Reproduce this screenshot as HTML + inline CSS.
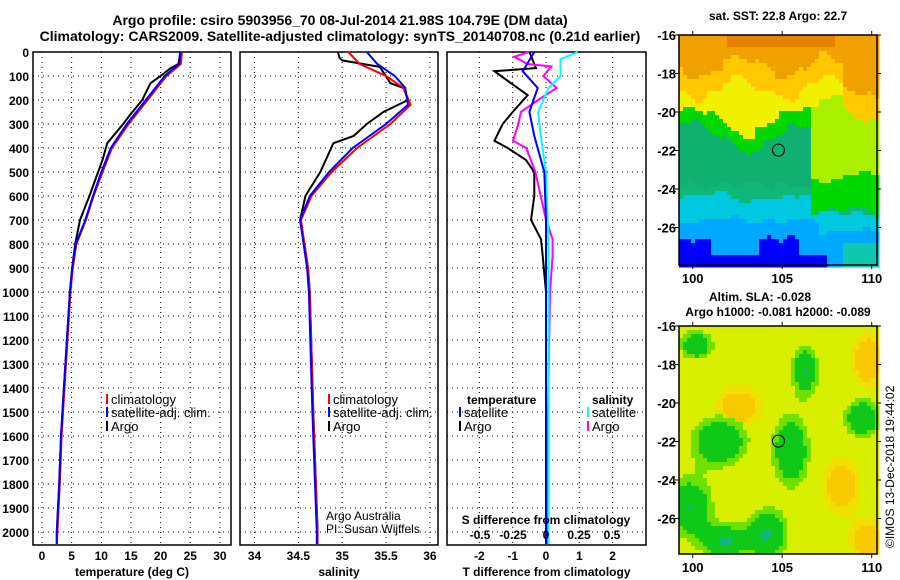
<!DOCTYPE html>
<html><head><meta charset="utf-8">
<style>
html,body{margin:0;padding:0;background:#fff;}
svg{display:block;font-family:"Liberation Sans",Arial,sans-serif;}
.t{font-weight:bold;font-size:12px;fill:#000;}
.h{font-weight:bold;font-size:14px;fill:#000;}
.l{font-size:13px;fill:#000;}
.grid{stroke:#000;stroke-width:1;stroke-dasharray:1,4;}
</style></head>
<body>
<svg id="c" width="900" height="580" viewBox="0 0 900 580" xmlns="http://www.w3.org/2000/svg">
<text class="h" x="340" y="25" text-anchor="middle">Argo profile: csiro 5903956_70 08-Jul-2014 21.98S 104.79E (DM data)</text>
<text class="h" x="340" y="41" text-anchor="middle">Climatology: CARS2009. Satellite-adjusted climatology: synTS_20140708.nc (0.21d earlier)</text>
<g id="p1"></g>
<g id="p2"></g>
<g id="p3"></g>
<g id="m1"></g>
<g id="m2"></g>
<text class="t" x="778" y="20" text-anchor="middle">sat. SST: 22.8 Argo: 22.7</text>
<text class="t" x="760" y="301" text-anchor="middle">Altim. SLA: -0.028</text>
<text class="t" x="778" y="316" text-anchor="middle">Argo h1000: -0.081 h2000: -0.089</text>
<text class="l" x="0" y="0" transform="translate(894,548) rotate(-90)" style="font-size:12px">©IMOS 13-Dec-2018 19:44:02</text>
</svg>
<script>
// ---- data ----
const depthTicks=[0,100,200,300,400,500,600,700,800,900,1000,1100,1200,1300,1400,1500,1600,1700,1800,1900,2000];
const tempTicks=[0,5,10,15,20,25,30];
const salTicks=[34,34.5,35,35.5,36];
const tdiffTicks=[-2,-1,0,1,2];
const sdiffTicks=[-0.5,-0.25,0,0.25,0.5];
const sdiffTickLabels=["-0.5","-0.25","0","0.25","0.5"];
const argoDepth=[0,20,50,67,100,130,200,270,300,380,450,600,700,800,900,1000,1200,1400,1600,1800,2000,2050];
const argoTemp=[23.3,23.2,23.0,21.7,20.0,18.3,16.9,14.6,13.7,11.0,10.2,8.0,6.4,5.6,5.1,4.7,4.2,3.7,3.2,2.9,2.5,2.5];
const climDepth=[0,50,100,150,200,300,400,500,600,700,800,900,1000,1200,1400,1600,1800,2000,2050];
const climTemp=[23.6,23.4,21.0,19.4,17.8,14.6,11.8,10.2,8.7,7.4,5.8,5.2,4.8,4.3,3.8,3.3,3.0,2.6,2.5];
const satTemp=[23.4,23.1,20.7,19.1,17.5,14.3,11.6,10.0,8.6,7.3,5.7,5.1,4.7,4.2,3.7,3.2,2.9,2.5,2.5];
const argoSalDepth=[0,25,35,62,130,150,200,250,300,350,380,500,600,700,800,900,1000,1500,2000];
const argoSal=[34.95,34.97,35.0,35.43,35.55,35.7,35.75,35.47,35.28,35.13,34.9,34.75,34.58,34.52,34.57,34.61,34.63,34.67,34.72];
const climSalDepth=[0,50,100,150,220,300,400,500,600,700,800,900,1000,1500,2000,2050];
const climSal=[35.07,35.2,35.5,35.7,35.78,35.55,35.17,34.88,34.65,34.53,34.57,34.61,34.63,34.67,34.72,34.72];
const satSal=[35.28,35.4,35.6,35.72,35.75,35.5,35.12,34.85,34.63,34.52,34.56,34.6,34.62,34.66,34.71,34.71];
const dTDepth=[0,67,80,130,180,250,300,370,400,450,500,600,700,780,850,1000,1500,2050];
const argoTdiff=[-0.5,-0.3,-1.55,-1.05,-0.55,-1.0,-1.3,-1.55,-1.15,-0.6,-0.35,-0.35,-0.45,-0.15,-0.1,0,0,0];
const satTdiffDepth=[0,80,150,250,350,500,700,2050];
const satTdiff=[-0.35,-0.7,-0.25,-0.5,-0.35,-0.05,0,0];
const dSDepth=[0,20,50,60,100,150,200,250,300,370,400,500,600,700,780,850,1000,1500,2050];
const argoSdiff=[-0.13,-0.24,-0.14,0.04,-0.02,0.08,-0.06,-0.19,-0.21,-0.25,-0.15,-0.08,-0.04,0,0.05,0.05,0.03,0.015,0.01];
const satSdiffDepth=[0,30,100,150,250,350,500,800,1500,2050];
const satSdiff=[0.24,0.11,0.11,0.02,-0.06,-0.04,0,0.02,0.02,0.02];
const mapLonTicks=[100,105,110];
const mapLatTicks=[-16,-18,-20,-22,-24,-26];
const argoLon=104.79, argoLat=-21.98;

const NS='http://www.w3.org/2000/svg';
function mk(tag,attrs,parent,txt){const e=document.createElementNS(NS,tag);for(const k in attrs)e.setAttribute(k,attrs[k]);if(txt!==undefined)e.textContent=txt;parent.appendChild(e);return e;}
const TOP=52,BOT=545;
const yD=d=>TOP+d*0.24;

function panel(g,x0,x1,xs,ticks,labels,xlabel,showY){
  for(const d of depthTicks){
    const y=yD(d);
    const gl=mk('line',{x1:x0,x2:x1,y1:y,y2:y,class:'grid'},g);
    
    
    if(showY){const t=mk('text',{x:x0-4,y:y+5,class:'t','text-anchor':'end'},g,String(d));
      
      }
  }
  ticks.forEach((v,i)=>{
    const x=xs(v);
    const gl=mk('line',{x1:x,x2:x,y1:TOP,y2:BOT,class:'grid'},g);
    
    
    if(labels){const t=mk('text',{x:x,y:560,class:'t','text-anchor':'middle'},g,labels[i]);
      
      }
  });
  const r=mk('rect',{x:x0,y:TOP,width:x1-x0,height:BOT-TOP,fill:'none',stroke:'#000','stroke-width':1.5},g);
  
  
  const xl=mk('text',{x:(x0+x1)/2,y:576,class:'t','text-anchor':'middle'},g,xlabel);
  
  
}
function line(g,xs,vals,depths,color,name,w){
  const pts=vals.map((v,i)=>xs(v).toFixed(1)+','+yD(depths[i]).toFixed(1)).join(' ');
  const p=mk('polyline',{points:pts,fill:'none',stroke:color,'stroke-width':w||2},g);
  
  
}
function legend(g,x,y,color,label,name){
  const m=mk('line',{x1:x,x2:x,y1:y-10,y2:y,stroke:color,'stroke-width':2},g);
  
  
  const t=mk('text',{x:x+4,y:y,class:'l'},g,label);
  
  
}

// temperature
const p1=document.getElementById('p1');
const xT=v=>42+v*5.93;
panel(p1,33,231,xT,tempTicks,tempTicks.map(String),'temperature (deg C)',true);
line(p1,xT,argoTemp,argoDepth,'#000','argo-temperature-line');
line(p1,xT,climTemp,climDepth,'#f00','climatology-temperature-line');
line(p1,xT,satTemp,climDepth,'#00f','satellite-temperature-line');
legend(p1,107,404,'#f00','climatology','legend-climatology');
legend(p1,107,417,'#00f','satellite-adj. clim.','legend-satellite');
legend(p1,107,431,'#000','Argo','legend-argo');

// salinity
const p2=document.getElementById('p2');
const xS=v=>254.5+(v-34)*87.7;
panel(p2,240,438,xS,salTicks,salTicks.map(String),'salinity',false);
line(p2,xS,argoSal,argoSalDepth,'#000','argo-salinity-line');
line(p2,xS,climSal,climSalDepth,'#f00','climatology-salinity-line');
line(p2,xS,satSal,climSalDepth,'#00f','satellite-salinity-line');
legend(p2,329,404,'#f00','climatology','legend-climatology-sal');
legend(p2,329,417,'#00f','satellite-adj. clim.','legend-satellite-sal');
legend(p2,329,431,'#000','Argo','legend-argo-sal');
const c1=mk('text',{x:326,y:520,class:'l',style:'font-size:12px'},p2,'Argo Australia');

const c2=mk('text',{x:326,y:533,class:'l',style:'font-size:12px'},p2,'PI: Susan Wijffels');


// differences
const p3=document.getElementById('p3');
const xDT=v=>546+v*33.3;
const xDS=v=>546+v*132;
panel(p3,447,646,xDT,tdiffTicks,tdiffTicks.map(String),'T difference from climatology',false);
line(p3,xDT,argoTdiff,dTDepth,'#000','argo-t-diff-line');
line(p3,xDS,argoSdiff,dSDepth,'#f0f','argo-s-diff-line');
line(p3,xDS,satSdiff,satSdiffDepth,'#0ff','satellite-s-diff-line');
line(p3,xDT,satTdiff,satTdiffDepth,'#00f','satellite-t-diff-line');
const tl=mk('text',{x:467,y:404,class:'t'},p3,'temperature');
const sl=mk('text',{x:592,y:404,class:'t'},p3,'salinity');
legend(p3,460,417,'#00f','satellite','legend-t-satellite');
legend(p3,460,431,'#000','Argo','legend-t-argo');
legend(p3,588,417,'#0ff','satellite','legend-s-satellite');
legend(p3,588,431,'#f0f','Argo','legend-s-argo');
const sd=mk('text',{x:546,y:524,class:'t','text-anchor':'middle'},p3,'S difference from climatology');

sdiffTicks.forEach((v,i)=>{const t=mk('text',{x:xDS(v),y:539,class:'t','text-anchor':'middle'},p3,sdiffTickLabels[i]);
  });

// maps
function map(g,top,bot,colorFn){
  const L=679,R=877,cs=4;
  const lonX=v=>692.7+(v-100)*17.9;
  const lat0=-16, py=19.25;
  const latY=v=>top+(lat0-v)*py;
  const cells=mk('g',{},g);
  
  
  for(let y=top;y<bot;y+=cs)for(let x=L;x<R;x+=cs){
    const lon=100+(x+2-692.7)/17.9, lat=lat0-(y+2-top)/py;
    mk('rect',{x:x,y:y,width:cs+0.5,height:cs+0.5,fill:colorFn(lon,lat)},cells);
  }
  const fr=mk('rect',{x:L,y:top,width:R-L,height:bot-top,fill:'none',stroke:'#000','stroke-width':1.5},g);
  
  for(const v of mapLonTicks){const x=lonX(v);
    mk('line',{x1:x,x2:x,y1:top,y2:top-4,stroke:'#000'},g);
    mk('line',{x1:x,x2:x,y1:bot,y2:bot+4,stroke:'#000'},g);
    const t=mk('text',{x:x,y:bot+18,class:'t','text-anchor':'middle',style:'font-size:13px'},g,String(v));
    }
  for(const v of mapLatTicks){const y=latY(v);
    mk('line',{x1:R,x2:R+4,y1:y,y2:y,stroke:'#000'},g);
    mk('line',{x1:L-4,x2:L,y1:y,y2:y,stroke:'#000'},g);
    const t=mk('text',{x:L-3,y:y+5,class:'t','text-anchor':'end',style:'font-size:13px'},g,String(v));
    }
  const c=mk('circle',{cx:lonX(argoLon),cy:latY(argoLat),r:6,fill:'none',stroke:'#000','stroke-width':1},g);
  
}
function n(a,b){return Math.sin(a*1.7+b*0.9)*0.5+Math.sin(a*0.6-b*2.3)*0.4+Math.sin(a*3.1+b*2.7)*0.25;}
function sst(lon,lat){
  const nz=0.25*n(lon*2.1,lat*1.9);
  const orangeB=-17.6+0.5*Math.sin(lon*1.3)+nz-(lon>108.5?1.2:0);
  const yellowB=-19.8-1.5*Math.exp(-Math.pow((lon-103)/1.6,2))+(lon>107?0.6:0)+nz;
  const ygB=(lon>106.5)?-23.3+0.4*n(lon,lat):yellowB;
  const greenB=-23.8+(lon>106.5?-1.3:0)+nz;
  const tealB=-24.3+(lon>106.5?-1.0:0)+nz-(lon>102&&lon<106?0.2:0);
  const cyanB=-25.6+(lon>107?-0.6:0)+nz;
  if(lat>orangeB) return (lat>-16.7&&(lon>102&&lon<108))?'#e88000':'#f0a000';
  if(lat>orangeB-1.2) return '#ffc800';
  if(lat>yellowB) return '#f0f000';
  if(lat>ygB) return '#a8f000';
  if(lat>greenB) return (lat>yellowB-0.8||lon>106.5)?'#00d800':'#10b070';
  if(lat>tealB) return '#10b878';
  if(lat>cyanB) return '#00c8e0';
  if(lat<-26.6+0.3*n(lon*3,lat*3)&&(lon<101||(lon>103.7&&lon<106)||(lat<-27.4&&lon<107.5))) return '#0000ff';
  if(lon>108.5&&lat<-26.8) return '#10c8b0';
  return '#00a8ff';
}
const blobs=[[101.5,-22,1.7,1.4],[99.8,-25.4,1.4,1.6],[104.2,-26.8,1.2,1.4],[105.5,-22.5,1.1,2.0],[109.5,-20.8,1.1,1.1],[106.3,-18.3,0.8,1.4],[100.2,-17,1.0,0.8],[101.8,-27.2,1.4,0.9]];
const oranges=[[108.3,-24.3,1.0,1.4],[109.8,-17.8,0.9,1.4],[109.8,-27.1,1.0,1.0],[102.6,-20.2,1.2,1.0]];
function sla(lon,lat){
  let v=0;for(const b of blobs){const d=Math.pow((lon-b[0])/b[2],2)+Math.pow((lat-b[1])/b[3],2);v+=Math.exp(-d);}
  let o=0;for(const b of oranges){const d=Math.pow((lon-b[0])/b[2],2)+Math.pow((lat-b[1])/b[3],2);o+=Math.exp(-d);}
  if(v>1.0) return '#10b880';
  if(v>0.6) return '#10c818';
  if(v>0.4) return '#70e000';
  if(o>0.55) return '#f8c800';
  if(o>0.3) return '#f0e000';
  return '#d8f000';
}
map(document.getElementById('m1'),35,265,sst);
map(document.getElementById('m2'),326,554,sla);
</script>
</body></html>
